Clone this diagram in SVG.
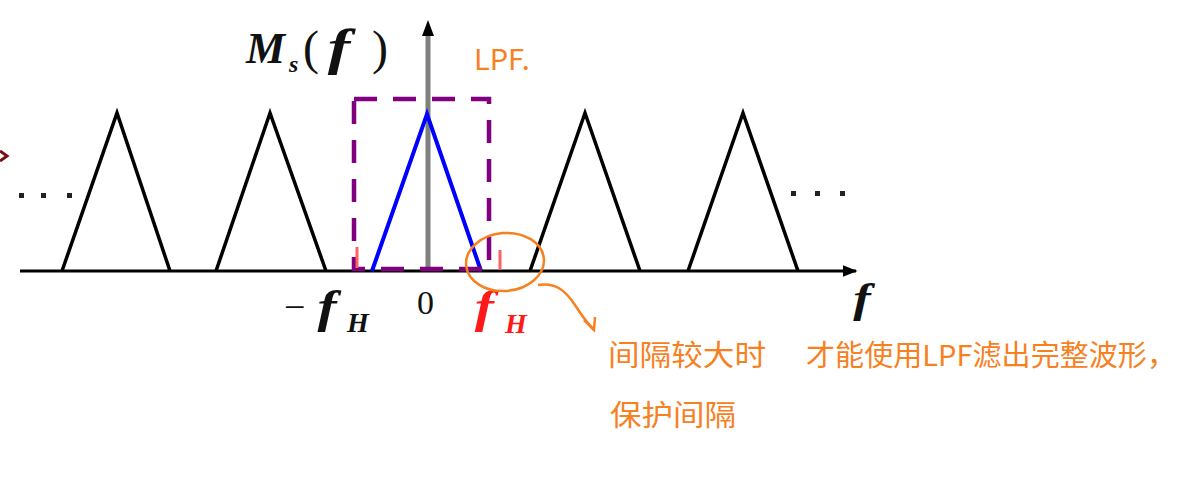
<svg xmlns="http://www.w3.org/2000/svg" width="1186" height="494" viewBox="0 0 1186 494">
<style>
.tri{fill:none;stroke:#000;stroke-width:3.5;stroke-linejoin:miter}
.math{font-family:"Liberation Serif","DejaVu Serif",serif;font-style:italic;font-weight:bold}
.fi{font-family:"Liberation Serif","DejaVu Serif",serif;font-style:italic;font-weight:bold}
.par{font-family:"Liberation Serif","DejaVu Serif",serif}
.hand{font-family:"Noto Sans CJK SC","Noto Sans",sans-serif;fill:#F7801F;font-size:29px}
.dot{fill:#222}
</style>
<defs>
<marker id="ah" viewBox="0 0 10 10" refX="9" refY="5" markerWidth="5" markerHeight="5" orient="auto" markerUnits="strokeWidth">
<path d="M0,1 L10,5 L0,9 Z" fill="#000"/>
</marker>
</defs>
<rect width="1186" height="494" fill="#fff"/>
<g id="axes">
<line x1="20" y1="271" x2="856" y2="271" stroke="#000" stroke-width="3" marker-end="url(#ah)"/>
<line x1="428" y1="271" x2="428" y2="34" stroke="#808080" stroke-width="5"/>
<path d="M428,20 L434,36 L422,36 Z" fill="#000"/>
</g>
<g id="spectra">
<polyline class="tri" points="62,271 117,113 170,271"/>
<polyline class="tri" points="216,271 270,113 326,271"/>
<polyline class="tri" points="530,271 585,113 640,271"/>
<polyline class="tri" points="688,271 743,113 798,271"/>
<polyline points="372,271 427,114 481,271" fill="none" stroke="#0000FF" stroke-width="4"/>
</g>
<g id="dots">
<rect class="dot" x="19" y="193" width="5" height="5"/>
<rect class="dot" x="41" y="193" width="5" height="5"/>
<rect class="dot" x="67" y="193" width="5" height="5"/>
<rect class="dot" x="791" y="191" width="5" height="5"/>
<rect class="dot" x="815" y="191" width="5" height="5"/>
<rect class="dot" x="840" y="191" width="5" height="5"/>
<path d="M0,151 L7,156 L0,161" fill="none" stroke="#7a1010" stroke-width="3"/>
</g>
<g id="lpf-box">
<rect x="354" y="99" width="135" height="170" fill="none" stroke="#800080" stroke-width="4.5" stroke-dasharray="23 16"/>
<line x1="357" y1="247" x2="357" y2="268" stroke="#FF6060" stroke-width="3"/>
<line x1="500" y1="250" x2="500" y2="270" stroke="#FF6060" stroke-width="3"/>
</g>
<g id="labels">
<text class="math" x="246" y="63" font-size="44" fill="#111">M</text>
<text class="math" x="289" y="72" font-size="24" fill="#111">s</text>
<text class="par" x="303" y="64" font-size="48" fill="#111">(</text>
<text class="fi" x="328" y="64" font-size="50" fill="#111" transform="translate(-115 0) scale(1.35 1)">f</text>
<text class="par" x="372" y="64" font-size="48" fill="#111">)</text>
<text class="par" x="284" y="320" font-size="38" fill="#111">−</text>
<text class="fi" x="318" y="322" font-size="46" fill="#111" transform="translate(-80 0) scale(1.25 1)">f</text>
<text class="math" x="347" y="332" font-size="28" fill="#111">H</text>
<text class="par" x="417" y="314" font-size="34" fill="#111">0</text>
<text class="fi" x="475" y="322" font-size="46" fill="#FF1A1A" transform="translate(-119 0) scale(1.25 1)">f</text>
<text class="math" x="505" y="333" font-size="28" fill="#FF1A1A">H</text>
<text class="fi" x="853" y="312" font-size="42" fill="#111" transform="translate(-213 0) scale(1.25 1)">f</text>
</g>
<g id="annotation">
<text class="hand" x="474" y="70" font-size="30">LPF.</text>
<ellipse cx="505" cy="262" rx="39" ry="29" fill="none" stroke="#F7801F" stroke-width="2.5" transform="rotate(-5 505 262)"/>
<path d="M538,285 C555,282 565,290 575,305 C582,316 588,324 594,330" fill="none" stroke="#F7801F" stroke-width="2.5"/>
<path d="M584,320 L594,330 L595,317" fill="none" stroke="#F7801F" stroke-width="2.5"/>
<text class="hand" x="608" y="366" textLength="158" lengthAdjust="spacingAndGlyphs">间隔较大时</text>
<text class="hand" x="806" y="366" textLength="370" lengthAdjust="spacingAndGlyphs">才能使用LPF滤出完整波形，</text>
<text class="hand" x="610" y="426" textLength="126" lengthAdjust="spacingAndGlyphs">保护间隔</text>
</g>
</svg>
